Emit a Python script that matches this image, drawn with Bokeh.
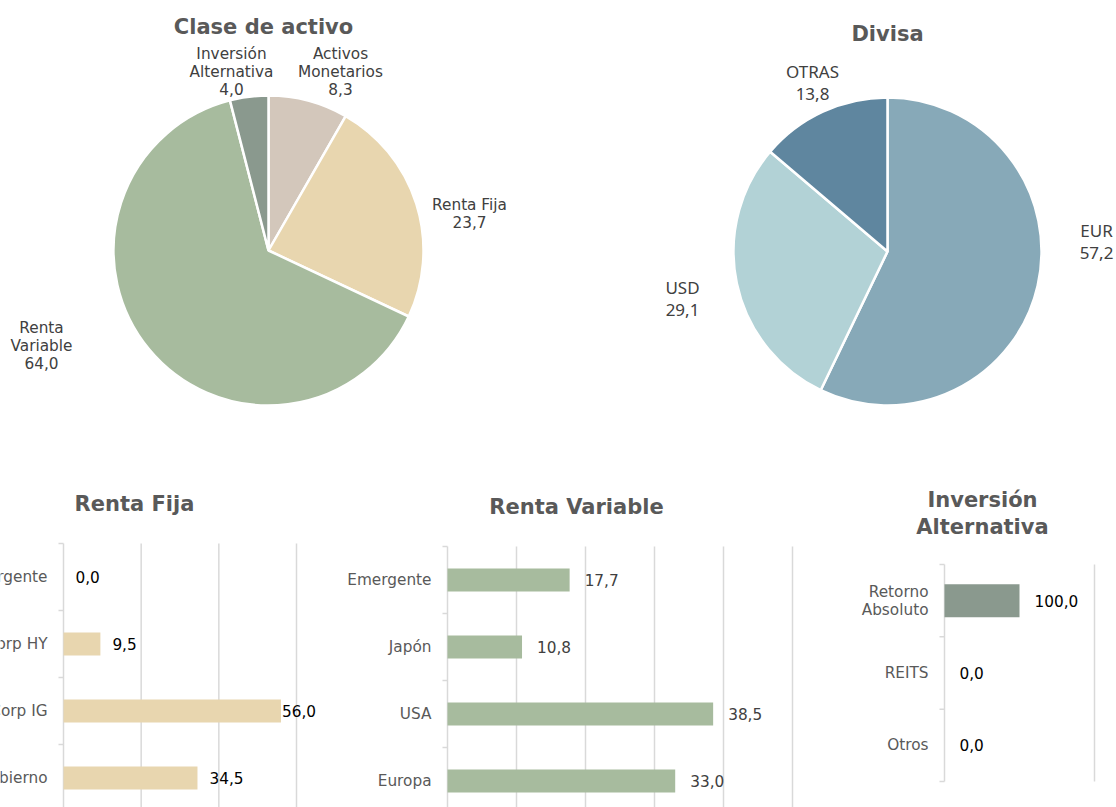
import math
from bokeh.plotting import figure
from bokeh.layouts import column, row
from bokeh.models import Range1d, ColumnDataSource
from bokeh.embed import file_html
from bokeh.resources import INLINE
from bokeh.core.properties import value

# ---------------- data ----------------
asset_cats = ["Activos\nMonetarios", "Renta Fija", "Renta\nVariable", "Inversión\nAlternativa"]
asset_vals = [8.3, 23.7, 64.0, 4.0]
asset_colors = ["#D3C7BB", "#E8D6AF", "#A7BB9E", "#8A998E"]

cur_cats = ["EUR", "USD", "OTRAS"]
cur_vals = [57.2, 29.1, 13.8]
cur_colors = ["#87A9B8", "#B2D2D6", "#5F869F"]

rf_cats = ["Emergente", "Corp HY", "Corp IG", "Gobierno"]
rf_vals = [0.0, 9.5, 56.0, 34.5]
rf_ticks = [20, 40, 60]

rv_cats = ["Emergente", "Japón", "USA", "Europa"]
rv_vals = [17.7, 10.8, 38.5, 33.0]
rv_ticks = [10, 20, 30, 40, 50]

ia_cats = ["Retorno\nAbsoluto", "REITS", "Otros"]
ia_vals = [100.0, 0.0, 0.0]
ia_ticks = [200]

VERDANA = "DejaVu Sans"
GRID = "#D9D9D9"
TITLE_COLOR = "#595959"
LBL = "15.3px"


def fmt(v):
    return f"{v:.1f}".replace(".", ",")


def pie(cats, vals, colors, width, height, cx, cy, r, title, title_pos, label_pos,
        font, fsize, line_h):
    p = figure(width=width, height=height,
               x_range=Range1d(-cx, width - cx), y_range=Range1d(-(height - cy), cy),
               x_axis_location=None, y_axis_location=None, min_border=0,
               output_backend="svg", toolbar_location=None)
    p.outline_line_color = None
    for g in p.grid:
        g.visible = False
    total = sum(vals)
    cum = [0.0]
    for v in vals:
        cum.append(cum[-1] + v)
    starts = [math.pi / 2 - 2 * math.pi * c / total for c in cum[:-1]]
    ends = [math.pi / 2 - 2 * math.pi * c / total for c in cum[1:]]
    src = ColumnDataSource(dict(start=starts, end=ends, color=colors))
    p.wedge(x=0, y=0, radius=r, start_angle="start", end_angle="end", direction="clock",
            fill_color="color", line_color="white", line_width=2.5, source=src)
    texts = [f"{c}\n{fmt(v)}" for c, v in zip(cats, vals)]
    p.text(x=[q[0] for q in label_pos], y=[q[1] for q in label_pos], text=texts,
           text_align="center", text_baseline="middle", text_font=value(font),
           text_font_size=fsize, text_color="#404040", text_line_height=line_h)
    p.text(x=[title_pos[0]], y=[title_pos[1]], text=[title], text_align="center",
           text_baseline="middle", text_font=value(VERDANA), text_font_style="bold",
           text_font_size="21px", text_color=TITLE_COLOR)
    return p


def bars(cats, vals, ticks, color, fig_x, fig_y, width, height, frame_l, frame_t,
         s, band, plot_bottom, bar_h, title, title_page, val_color, val_off):
    n = len(cats)
    # data ranges so that value 0 sits at page x=frame_l and band top at page y=frame_t
    x0 = -(frame_l - fig_x) / s
    x1 = (fig_x + width - frame_l) / s
    y_top = -0.5 - (frame_t - fig_y) / band
    y_bot = -0.5 + (fig_y + height - frame_t) / band
    p = figure(width=width, height=height,
               x_range=Range1d(x0, x1), y_range=Range1d(y_bot, y_top),
               x_axis_location=None, y_axis_location=None, min_border=0,
               output_backend="svg", toolbar_location=None)
    p.outline_line_color = None
    for g in p.grid:
        g.visible = False

    # grid lines
    p.segment(x0=ticks, x1=ticks, y0=[-0.5] * len(ticks), y1=[plot_bottom] * len(ticks),
              line_color=GRID, line_width=1.5)
    # value axis line + category ticks
    p.segment(x0=[0], x1=[0], y0=[-0.5], y1=[plot_bottom], line_color=GRID, line_width=1.5)
    bnd = [i - 0.5 for i in range(n + 1)]
    p.segment(x0=[-5 / s] * len(bnd), x1=[0] * len(bnd), y0=bnd, y1=bnd,
              line_color=GRID, line_width=1.5)

    idx = list(range(n))
    p.hbar(y=idx, left=0, right=vals, height=bar_h, fill_color=color, line_color=None)

    offs = [1 if v / max(ticks) > 0.9 else val_off for v in vals]
    src = ColumnDataSource(dict(y=idx, x=vals, zero=[0] * n, cat=cats,
                                lab=[fmt(v) for v in vals], off=offs))
    p.text(x="zero", y="y", text="cat", source=src, x_offset=-16,
           text_align="right", text_baseline="middle",
           text_font=value(VERDANA), text_font_size=LBL,
           text_color="#595959", text_line_height=1.0)
    p.text(x="x", y="y", text="lab", source=src, x_offset="off",
           text_align="left", text_baseline="middle",
           text_font=value(VERDANA), text_font_size=LBL, text_color=val_color)
    tx = (title_page[0] - frame_l) / s
    ty = -0.5 + (title_page[1] - frame_t) / band
    p.text(x=[tx], y=[ty], text=[title], text_align="center", text_baseline="middle",
           text_font=value(VERDANA), text_font_style="bold", text_font_size="21px",
           text_color=TITLE_COLOR, text_line_height=1.12)
    return p


pA = pie(asset_cats, asset_vals, asset_colors, 558, 465, 268, 250, 155,
         "Clase de activo", (-5, 224),
         [(72, 179), (201, 37), (-227, -95), (-37, 179)],
         VERDANA, LBL, 1.0)
pB = pie(cur_cats, cur_vals, cur_colors, 558, 465, 329, 251, 154,
         "Divisa", (0, 218),
         [(209, 10), (-205, -47), (-75, 169)],
         "Noto Sans", "17px", 0.99)

rf = bars(rf_cats, rf_vals, rf_ticks, "#E8D6AF", 0, 465, 340, 342, 63, 543,
          233 / 60, 67, 3.5, 0.343, "Renta Fija", (134, 503), "#000000", 12)
rv = bars(rv_cats, rv_vals, rv_ticks, "#A7BB9E", 340, 465, 480, 342, 447, 546,
          345 / 50, 67, 3.5, 0.343, "Renta Variable", (576, 506), "#404040", 15)
ia = bars(ia_cats, ia_vals, ia_ticks, "#8A998E", 820, 465, 296, 342, 944, 564,
          150 / 200, 217 / 3, 2.5, 0.456, "Inversión\nAlternativa", (982, 513),
          "#000000", 15)

layout = column(row(pA, pB), row(rf, rv, ia))
open("out.html", "w").write(file_html(layout, INLINE))
